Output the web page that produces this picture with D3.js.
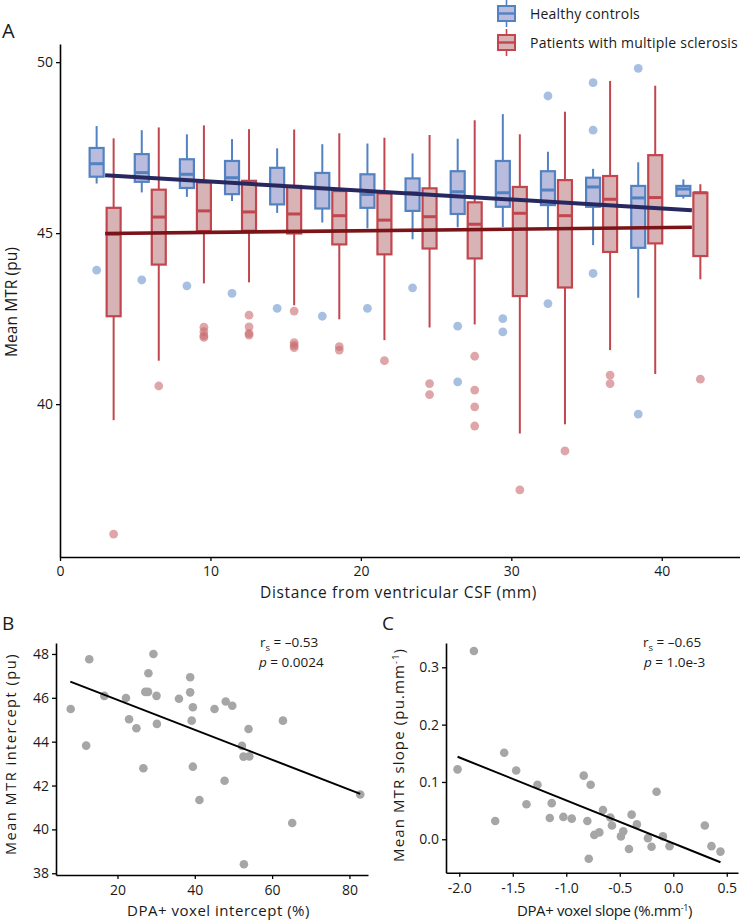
<!DOCTYPE html>
<html><head><meta charset="utf-8">
<script src="https://cdn.jsdelivr.net/npm/d3@7"></script>
<style>body{margin:0;background:#fff} svg text{font-family:"Open Sans",sans-serif;fill:#1a1a1a}</style>
</head><body><svg id="c" width="740" height="920"></svg>
<script>
// ---------- Panel A data ----------
const groups = [3,6,9,12,15,18,21,24,27,30,33,36,39,42];
const hcLo  = [46.45,46.19,46.06,45.94,45.59,45.31,45.14,44.82,45.17,45.18,45.18,44.65,43.11,46.01];
const hcQ1  = [46.65,46.50,46.32,46.14,45.84,45.72,45.74,45.65,45.56,45.77,45.82,45.77,44.57,46.09];
const hcMed = [47.03,46.77,46.72,46.62,46.40,46.30,46.13,46.18,46.21,46.18,46.26,46.35,46.03,46.29];
const hcQ3  = [47.49,47.31,47.16,47.11,46.91,46.76,46.72,46.60,46.81,47.11,46.81,46.62,46.38,46.38];
const hcHi  = [48.13,48.01,47.89,47.75,47.48,47.60,47.62,47.33,47.76,48.48,47.38,46.88,47.07,46.57];
const hcOut = [[43.92],[43.63],[43.46],[43.24],[42.80],[42.57],[42.80],[43.40],[42.28,40.65],[42.50,42.11],[49.01,42.94],[49.40,48.01,43.82],[49.82,39.71],[]];
const msLo  = [39.53,41.27,43.53,43.56,42.89,42.48,41.87,42.24,42.33,39.14,39.41,41.58,40.88,43.65];
const msQ1  = [42.57,44.08,45.06,45.07,44.99,44.67,44.38,44.55,44.26,43.16,43.41,44.45,44.70,44.33];
const msMed = [44.97,45.47,45.65,45.62,45.56,45.51,45.38,45.48,45.26,45.58,45.51,45.99,46.04,46.18];
const msQ3  = [45.74,46.27,46.48,46.53,46.38,46.23,46.16,46.31,45.90,46.35,46.55,46.67,47.28,46.18];
const msHi  = [47.77,48.09,48.15,48.04,48.03,47.92,47.79,47.87,48.30,47.89,48.55,49.45,49.31,46.43];
const msOut = [[36.20],[40.53],[42.25,42.12,42.00,41.95],[42.60,42.26,42.07,42.02],[42.72,41.80,41.72,41.65],[41.68,41.58],[41.27],[40.60,40.28],[41.40,40.41,39.92,39.36],[37.49],[38.63],[40.85,40.60],[],[40.73]];
const hcTrendX = [3,42], hcTrendY = [46.69,45.67];
const msTrendX = [3,42], msTrendY = [44.99,45.17];
const aXTicks = [0,10,20,30,40], aYTicks = [40,45,50];
const legendLabels = ["Healthy controls","Patients with multiple sclerosis"];

// ---------- Panel B data ----------
const bXv = [7.9,12.7,11.9,16.6,22.2,23.0,24.9,26.7,27.2,27.9,28.0,29.3,30.1,30.2,35.9,38.8,38.8,39.2,39.5,39.5,41.2,45.1,47.7,48.0,49.7,52.2,52.6,52.7,53.9,54.1,62.8,65.2,82.8];
const bYv = [45.49,47.76,43.82,46.09,45.99,45.02,44.61,42.79,46.27,46.27,47.12,48.00,46.09,44.81,45.96,46.94,46.25,44.96,45.57,42.86,41.34,45.49,42.22,45.83,45.64,43.81,43.32,38.41,44.58,43.33,44.96,40.29,41.59];
const bFitX = [7.8,82.8], bFitY = [46.74,41.62];
const bXTicks = [20,40,60,80], bYTicks = [38,40,42,44,46,48];

// ---------- Panel C data ----------
const cXv = [-1.863,-2.016,-1.580,-1.664,-1.468,-1.269,-1.372,-1.136,-1.154,-1.027,-0.949,-0.837,-0.772,-0.803,-0.790,-0.738,-0.691,-0.657,-0.588,-0.573,-0.489,-0.467,-0.414,-0.389,-0.340,-0.237,-0.203,-0.156,-0.097,-0.035,0.295,0.357,0.441];
const cYv = [0.3285,0.122,0.151,0.032,0.120,0.095,0.061,0.063,0.037,0.039,0.036,0.111,0.095,0.032,-0.034,0.0076,0.012,0.051,0.038,0.024,0.005,0.014,-0.017,0.043,0.026,0.002,-0.013,0.083,0.005,-0.012,0.024,-0.012,-0.0215];
const cFitX = [-2.016,0.441], cFitY = [0.144,-0.040];
const cXTicks = [-2.0,-1.5,-1.0,-0.5,0.0,0.5], cYTicks = [0.0,0.1,0.2,0.3];

const svg = d3.select('#c');
// set a font size, then spread letters so the text spans the given width
function fitLS(t, fs, w){
  t.attr('font-size',fs).attr('letter-spacing',0);
  const L = t.node().getComputedTextLength();
  const n = t.text().length;
  t.attr('letter-spacing', ((w-L)/n).toFixed(3));
  return t;
}
function styleAxis(g){
  g.selectAll('.domain').attr('stroke','#000').attr('stroke-width',1.6);
  g.selectAll('.tick line').attr('stroke','#000').attr('stroke-width',1.3);
  g.selectAll('.tick text').attr('font-family','"Open Sans",sans-serif').attr('font-size',14).attr('fill','#222');
}

// ---------- Panel A ----------
const ax = d3.scaleLinear().domain([0,45.2]).range([60,740]);
const ay = d3.scaleLinear().domain([35.53,50.53]).range([557,44]);
const series = [
  {lo:hcLo,q1:hcQ1,med:hcMed,q3:hcQ3,hi:hcHi,out:hcOut,off:-0.565,stroke:'#5282c2',fill:'#b9bcdc',dot:'#6c96cd'},
  {lo:msLo,q1:msQ1,med:msMed,q3:msQ3,hi:msHi,out:msOut,off:0.565,stroke:'#c2464e',fill:'#d7b3b5',dot:'#c86b6e'}
];
const gA = svg.append('g');
const hw = 0.465;
series.forEach(s=>{
  groups.forEach((g,i)=>{
    const cx = ax(g+s.off);
    gA.append('line').attr('x1',cx).attr('x2',cx).attr('y1',ay(s.lo[i])).attr('y2',ay(s.q1[i])).attr('stroke',s.stroke).attr('stroke-width',2);
    gA.append('line').attr('x1',cx).attr('x2',cx).attr('y1',ay(s.q3[i])).attr('y2',ay(s.hi[i])).attr('stroke',s.stroke).attr('stroke-width',2);
    gA.append('rect').attr('x',ax(g+s.off-hw)).attr('width',ax(g+s.off+hw)-ax(g+s.off-hw))
      .attr('y',ay(s.q3[i])).attr('height',ay(s.q1[i])-ay(s.q3[i]))
      .attr('fill',s.fill).attr('stroke',s.stroke).attr('stroke-width',2.2);
    gA.append('line').attr('x1',ax(g+s.off-hw)).attr('x2',ax(g+s.off+hw)).attr('y1',ay(s.med[i])).attr('y2',ay(s.med[i])).attr('stroke',s.stroke).attr('stroke-width',3);
  });
});
series.forEach(s=>{
  groups.forEach((g,i)=>{
    s.out[i].forEach(v=>{
      gA.append('circle').attr('cx',ax(g+s.off)).attr('cy',ay(v)).attr('r',4.4).attr('fill',s.dot).attr('fill-opacity',0.6);
    });
  });
});
const lineA = d3.line().x(d=>ax(d[0])).y(d=>ay(d[1]));
gA.append('path').attr('d',lineA(msTrendX.map((x,i)=>[x,msTrendY[i]]))).attr('stroke','#7a1419').attr('stroke-width',3.6).attr('fill','none');
gA.append('path').attr('d',lineA(hcTrendX.map((x,i)=>[x,hcTrendY[i]]))).attr('stroke','#27285f').attr('stroke-width',4).attr('fill','none');

const axA = svg.append('g').attr('transform','translate(0,557)').call(d3.axisBottom(ax).tickValues(aXTicks).tickSize(4).tickPadding(5).tickSizeOuter(0).tickFormat(d3.format('d')));
styleAxis(axA);
const ayA = svg.append('g').attr('transform','translate(60,0)').call(d3.axisLeft(ay).tickValues(aYTicks).tickSize(4).tickPadding(3).tickSizeOuter(0).tickFormat(d3.format('d')));
styleAxis(ayA);
fitLS(svg.append('text').attr('x',398.5).attr('y',598).attr('text-anchor','middle').text('Distance from ventricular CSF (mm)'),15.5,277);
fitLS(svg.append('text').attr('transform','translate(17,302) rotate(-90)').attr('text-anchor','middle').text('Mean MTR (pu)'),15.5,110);
svg.append('text').attr('x',2).attr('y',38).attr('font-size',20).text('A');

// legend
const leg = [{y:13.5,stroke:series[0].stroke,fill:series[0].fill,w0:0,w1:27},{y:42.5,stroke:series[1].stroke,fill:series[1].fill,w0:29,w1:56}];
leg.forEach((l,i)=>{
  svg.append('line').attr('x1',506.5).attr('x2',506.5).attr('y1',l.w0).attr('y2',l.w1).attr('stroke',l.stroke).attr('stroke-width',1.6);
  svg.append('rect').attr('x',498).attr('y',l.y-7.5).attr('width',17).attr('height',15).attr('fill',l.fill).attr('stroke',l.stroke).attr('stroke-width',2);
  svg.append('line').attr('x1',498).attr('x2',515).attr('y1',l.y).attr('y2',l.y).attr('stroke',l.stroke).attr('stroke-width',2.4);
  const t = svg.append('text').attr('x',530).attr('y',l.y+5).text(legendLabels[i]);
  fitLS(t, 14, i===0?110:208);
});

// ---------- Panel B ----------
const bx = d3.scaleLinear().domain([4.1,84.8]).range([56,368]);
const by = d3.scaleLinear().domain([37.92,48.5]).range([875,643]);
const gB = svg.append('g');
bXv.forEach((x,i)=>gB.append('circle').attr('cx',bx(x)).attr('cy',by(bYv[i])).attr('r',4.3).attr('fill','#a6a6a6'));
gB.append('line').attr('x1',bx(bFitX[0])).attr('y1',by(bFitY[0])).attr('x2',bx(bFitX[1])).attr('y2',by(bFitY[1])).attr('stroke','#000').attr('stroke-width',2);
styleAxis(svg.append('g').attr('transform','translate(0,875)').call(d3.axisBottom(bx).tickValues(bXTicks).tickSize(4).tickPadding(6).tickSizeOuter(0).tickFormat(d3.format('d'))));
styleAxis(svg.append('g').attr('transform','translate(56,0)').call(d3.axisLeft(by).tickValues(bYTicks).tickSize(4).tickPadding(3).tickSizeOuter(0).tickFormat(d3.format('d'))));
fitLS(svg.append('text').attr('x',218.5).attr('y',916).attr('text-anchor','middle').text('DPA+ voxel intercept (%)'),15,183);
fitLS(svg.append('text').attr('transform','translate(15.5,754) rotate(-90)').attr('text-anchor','middle').text('Mean MTR intercept (pu)'),14.5,202);
svg.append('text').attr('x',2).attr('y',630).attr('font-size',19).text('B');
{
  const t1 = svg.append('text').attr('x',260).attr('y',647).attr('font-size',13.5);
  t1.append('tspan').text('r');
  t1.append('tspan').attr('font-size','70%').attr('dy',4).text('s');
  t1.append('tspan').attr('dy',-4).text(' = –0.53');
  const t2 = svg.append('text').attr('x',259).attr('y',667).attr('font-size',13.5);
  t2.append('tspan').attr('font-style','italic').text('p');
  t2.append('tspan').text(' = 0.0024');
}

// ---------- Panel C ----------
const cx = d3.scaleLinear().domain([-2.124,0.605]).range([446,738]);
const cy = d3.scaleLinear().domain([-0.0583,0.3424]).range([872.7,643]);
const gC = svg.append('g');
cXv.forEach((x,i)=>gC.append('circle').attr('cx',cx(x)).attr('cy',cy(cYv[i])).attr('r',4.3).attr('fill','#a6a6a6'));
gC.append('line').attr('x1',cx(cFitX[0])).attr('y1',cy(cFitY[0])).attr('x2',cx(cFitX[1])).attr('y2',cy(cFitY[1])).attr('stroke','#000').attr('stroke-width',2);
styleAxis(svg.append('g').attr('transform','translate(0,872.7)').call(d3.axisBottom(cx).tickValues(cXTicks).tickSize(4).tickPadding(6).tickSizeOuter(0).tickFormat(d=>d.toFixed(1))));
styleAxis(svg.append('g').attr('transform','translate(446,0)').call(d3.axisLeft(cy).tickValues(cYTicks).tickSize(4).tickPadding(3).tickSizeOuter(0).tickFormat(d=>d.toFixed(1))));
{
  const t = svg.append('text').attr('x',604.5).attr('y',916).attr('text-anchor','middle');
  t.append('tspan').text('DPA+ voxel slope (%.mm');
  t.append('tspan').attr('font-size','60%').attr('dy','-0.55em').text('-1');
  t.append('tspan').attr('dy','0.33em').text(')');
  fitLS(t,15,175);
  const u = svg.append('text').attr('transform','translate(404,755) rotate(-90)').attr('text-anchor','middle');
  u.append('tspan').text('Mean MTR slope (pu.mm');
  u.append('tspan').attr('font-size','60%').attr('dy','-0.55em').text('-1');
  u.append('tspan').attr('dy','0.33em').text(')');
  fitLS(u,15,214);
}
svg.append('text').attr('x',382).attr('y',630).attr('font-size',19).text('C');
{
  const t1 = svg.append('text').attr('x',643).attr('y',647).attr('font-size',13.5);
  t1.append('tspan').text('r');
  t1.append('tspan').attr('font-size','70%').attr('dy',4).text('s');
  t1.append('tspan').attr('dy',-4).text(' = –0.65');
  const t2 = svg.append('text').attr('x',644).attr('y',667).attr('font-size',13.5);
  t2.append('tspan').attr('font-style','italic').text('p');
  t2.append('tspan').text(' = 1.0e-3');
}
</script></body></html>
